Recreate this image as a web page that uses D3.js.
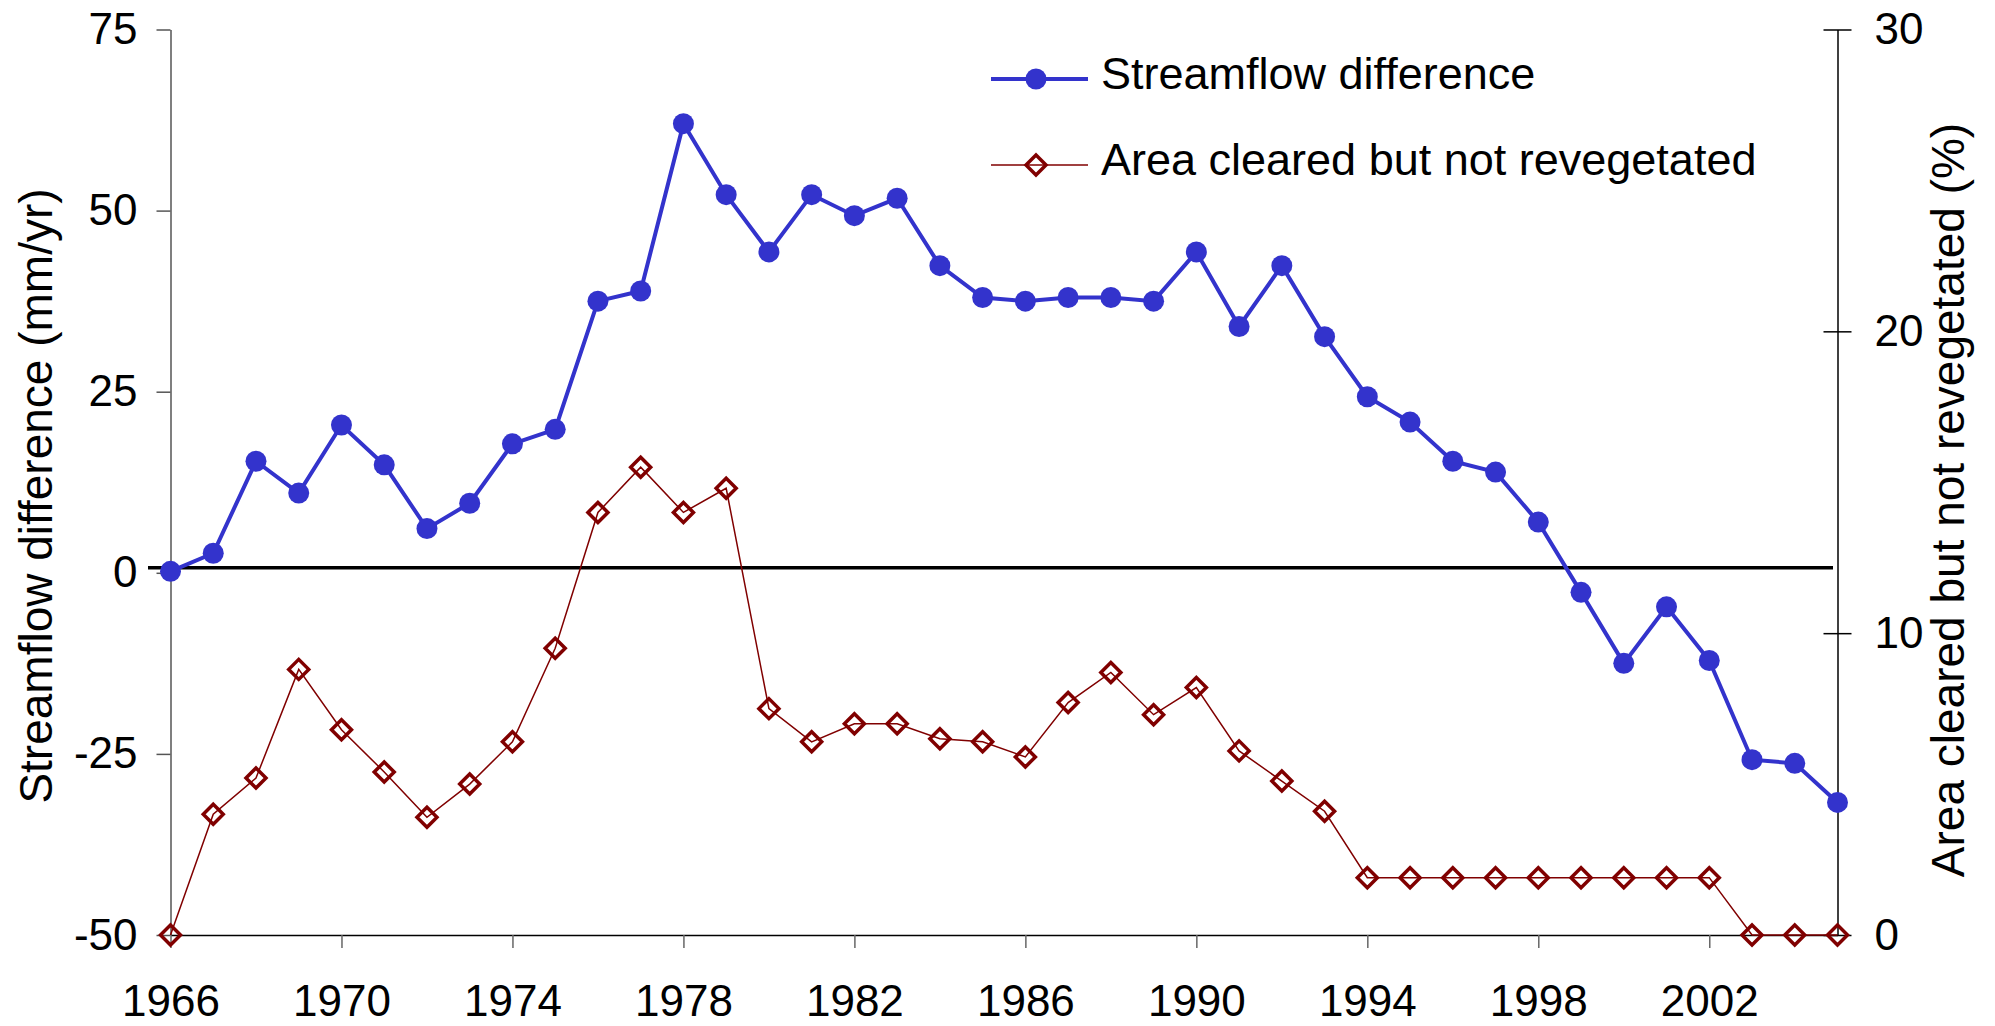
<!DOCTYPE html>
<html>
<head>
<meta charset="utf-8">
<script src="https://cdn.jsdelivr.net/npm/d3@7"></script>
<style>
  body { margin: 0; background: #fff; }
  svg text { font-family: "Liberation Sans", Arial, sans-serif; fill: #000; }
</style>
</head>
<body>
<svg id="chart" width="1995" height="1026"></svg>
<script>
// categories
years = [1966, 1967, 1968, 1969, 1970, 1971, 1972, 1973, 1974, 1975,
         1976, 1977, 1978, 1979, 1980, 1981, 1982, 1983, 1984, 1985,
         1986, 1987, 1988, 1989, 1990, 1991, 1992, 1993, 1994, 1995,
         1996, 1997, 1998, 1999, 2000, 2001, 2002, 2003, 2004, 2005]

// streamflow difference (mm/yr), left axis
streamflow = [0.2, 2.7, 15.4, 11.0, 20.4, 14.9, 6.1, 9.6, 17.8, 19.8,
              37.5, 38.9, 62.0, 52.2, 44.3, 52.2, 49.3, 51.7, 42.4, 38.0,
              37.5, 38.0, 38.0, 37.5, 44.3, 34.0, 42.4, 32.6, 24.3, 20.8,
              15.4, 13.9, 7.0, -2.7, -12.5, -4.7, -12.1, -25.8, -26.3, -31.7]

// area cleared but not revegetated (%), right axis
cleared = [0, 4.0, 5.2, 8.8, 6.8, 5.4, 3.9, 5.0, 6.4, 9.5,
           14.0, 15.5, 14.0, 14.8, 7.5, 6.4, 7.0, 7.0, 6.5, 6.4,
           5.9, 7.7, 8.7, 7.3, 8.2, 6.1, 5.1, 4.1, 1.9, 1.9,
           1.9, 1.9, 1.9, 1.9, 1.9, 1.9, 1.9, 0, 0, 0]

// tick labels
yearTicks = [1966, 1970, 1974, 1978, 1982, 1986, 1990, 1994, 1998, 2002]
leftTicks = [75, 50, 25, 0, -25, -50]
rightTicks = [0, 10, 20, 30]

seriesNames = ['Streamflow difference', 'Area cleared but not revegetated']

blue = '#3333cc'
red = '#800000'

svg = d3.select('#chart');

xscale = d3.scaleLinear().domain([1966, 2005]).range([170.5, 1837.5]);
yleft = d3.scaleLinear().domain([-50, 75]).range([935, 29.5]);
yright = d3.scaleLinear().domain([0, 30]).range([935, 29.5]);

// plain hyphen for negatives, like the original
plain = function(d) { return String(d); };

// left axis
gl = svg.append('g')
    .attr('transform', 'translate(170.5,0)')
    .call(d3.axisLeft(yleft).tickValues(leftTicks).tickFormat(plain)
        .tickSizeInner(14).tickSizeOuter(0).tickPadding(19));
gl.select('.domain').attr('stroke', '#555').attr('stroke-width', 1.5);
gl.selectAll('.tick line').attr('stroke', '#555').attr('stroke-width', 1.5);
gl.selectAll('.tick text').attr('font-size', 44).attr('font-family', 'Liberation Sans');

// right axis, ticks cross the line
gr = svg.append('g')
    .attr('transform', 'translate(1837.5,0)')
    .call(d3.axisRight(yright).tickValues(rightTicks).tickFormat(plain)
        .tickSizeInner(14).tickSizeOuter(0).tickPadding(23));
gr.select('.domain').attr('stroke', '#000').attr('stroke-width', 1.5);
gr.selectAll('.tick line').attr('x1', -14).attr('stroke', '#000').attr('stroke-width', 1.5);
gr.selectAll('.tick text').attr('font-size', 44).attr('font-family', 'Liberation Sans');

// bottom axis
gb = svg.append('g')
    .attr('transform', 'translate(0,935)')
    .call(d3.axisBottom(xscale).tickValues(yearTicks).tickFormat(plain)
        .tickSizeInner(13).tickSizeOuter(0).tickPadding(37));
gb.select('.domain').attr('stroke', '#000').attr('stroke-width', 1.5);
gb.selectAll('.tick line').attr('stroke', '#666').attr('stroke-width', 1.5);
gb.selectAll('.tick text').attr('font-size', 44).attr('font-family', 'Liberation Sans');

// zero line (sits a few px above the zero tick in the original)
svg.append('line')
    .attr('x1', 148).attr('x2', 1833)
    .attr('y1', yleft(0) - 5).attr('y2', yleft(0) - 5)
    .attr('stroke', '#000').attr('stroke-width', 3.5);

// area cleared series
redLine = d3.line()
    .x(function(d, i) { return xscale(years[i]); })
    .y(function(d) { return yright(d); });

svg.append('path')
    .datum(cleared)
    .attr('d', redLine)
    .attr('fill', 'none')
    .attr('stroke', red)
    .attr('stroke-width', 1.5);

diamond = 'M0,-10L10,0L0,10L-10,0Z'

svg.append('g')
    .selectAll('path')
    .data(cleared)
    .enter()
    .append('path')
    .attr('d', diamond)
    .attr('transform', function(d, i) {
        return 'translate(' + xscale(years[i]) + ',' + yright(d) + ')';
    })
    .attr('fill', 'none')
    .attr('stroke', red)
    .attr('stroke-width', 3.5);

// streamflow series
blueLine = d3.line()
    .x(function(d, i) { return xscale(years[i]); })
    .y(function(d) { return yleft(d); });

svg.append('path')
    .datum(streamflow)
    .attr('d', blueLine)
    .attr('fill', 'none')
    .attr('stroke', blue)
    .attr('stroke-width', 4);

svg.append('g')
    .selectAll('circle')
    .data(streamflow)
    .enter()
    .append('circle')
    .attr('cx', function(d, i) { return xscale(years[i]); })
    .attr('cy', function(d) { return yleft(d); })
    .attr('r', 10.5)
    .attr('fill', blue);

// axis titles
svg.append('text')
    .text('Streamflow difference (mm/yr)')
    .attr('transform', 'translate(52,496) rotate(-90)')
    .attr('text-anchor', 'middle')
    .attr('font-size', 46);

svg.append('text')
    .text('Area cleared but not revegetated (%)')
    .attr('transform', 'translate(1964,500) rotate(-90)')
    .attr('text-anchor', 'middle')
    .attr('font-size', 46);

// legend
lg = svg.append('g');

lg.append('line')
    .attr('x1', 991).attr('x2', 1088).attr('y1', 79).attr('y2', 79)
    .attr('stroke', blue).attr('stroke-width', 4);
lg.append('circle')
    .attr('cx', 1036).attr('cy', 79).attr('r', 10.5)
    .attr('fill', blue);
lg.append('text')
    .text(seriesNames[0])
    .attr('x', 1101).attr('y', 89)
    .attr('font-size', 45);

lg.append('line')
    .attr('x1', 991).attr('x2', 1088).attr('y1', 165).attr('y2', 165)
    .attr('stroke', red).attr('stroke-width', 1.5);
lg.append('path')
    .attr('d', diamond)
    .attr('transform', 'translate(1036,165)')
    .attr('fill', 'none')
    .attr('stroke', red)
    .attr('stroke-width', 3.5);
lg.append('text')
    .text(seriesNames[1])
    .attr('x', 1101).attr('y', 175)
    .attr('font-size', 45);
</script>
</body>
</html>
